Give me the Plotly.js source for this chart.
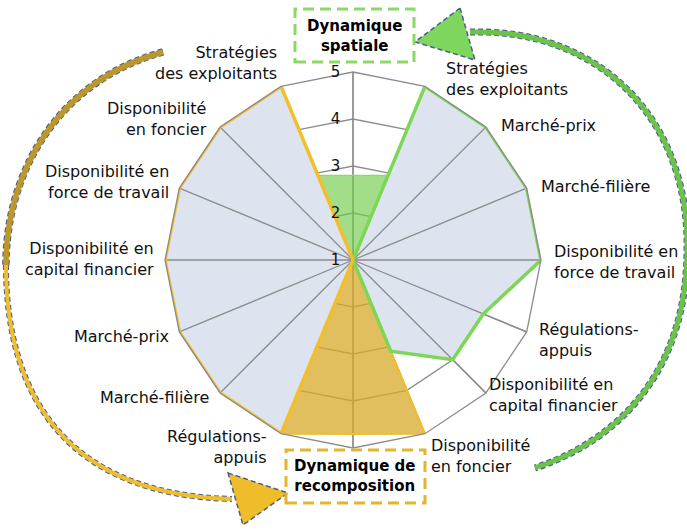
<!DOCTYPE html>
<html>
<head>
<meta charset="utf-8">
<script src="https://cdn.plot.ly/plotly-3.0.1.min.js"></script>
<style>html,body{margin:0;padding:0;background:#fff;}#chart{width:687px;height:530px;}</style>
</head>
<body>
<div id="chart"></div>
<script>
// Spoke labels, clockwise from the top spoke
const spokeLabels = [
  "",
  "Stratégies<br>des exploitants",
  "Marché-prix",
  "Marché-filière",
  "Disponibilité en<br>force de travail",
  "Régulations-<br>appuis",
  "Disponibilité en<br>capital financier",
  "Disponibilité<br>en foncier",
  "",
  "Régulations-<br>appuis",
  "Marché-filière",
  "Marché-prix",
  "Disponibilité en<br>capital financier",
  "Disponibilité en<br>force de travail",
  "Disponibilité<br>en foncier",
  "Stratégies<br>des exploitants"
];
// Series values (scale 1..5)
const recompositionArea = [1,1,1,1,1,1,1,1,1,5,5,5,5,5,5,5];
const spatialeArea      = [1,5,5,5,5,4,4,3.1,1,1,1,1,1,1,1,1];
const spatialeCore      = [2.8,2.95,1,1,1,1,1,1,1,1,1,1,1,1,1,2.95];
const recompositionCore = [1,1,1,1,1,1,1,5,4.7,5,1,1,1,1,1,1];
const radialTicks = [1,2,3,4,5];

// Label placement (pixels in the 687x530 page): anchor x, middle y, side
const labelPlacement = [
  null,
  [445, 79, 'left'], [500, 126, 'left'], [540, 187, 'left'], [553, 262, 'left'],
  [538, 340, 'left'], [488, 395, 'left'], [430, 456, 'left'],
  null,
  [268, 447, 'right'], [210, 398, 'right'], [170, 336, 'right'], [155, 259, 'right'],
  [170, 182, 'right'], [208, 119, 'right'], [278, 63, 'right']
];

const keys = spokeLabels.map((l,i)=>'k'+i);
const close = a => a.concat([a[0]]);
const th = close(keys);

const FONT = 'DejaVu Sans, Liberation Sans, Arial, sans-serif';
const GRID = '#8c8c8c';
const LAV = '#dde3ef';
const YEL = '#f2bf2a';
const GRN = '#7dd655';

// spokes overlay (drawn above the opaque fills, like the reference)
const spR = [], spT = [];
keys.forEach(k=>{ spR.push(radialTicks[0], radialTicks[radialTicks.length-1], null); spT.push(k,k,k); });

const traces = [
  {type:'scatterpolar', r:close(recompositionArea), theta:th, mode:'lines', fill:'toself',
   fillcolor:LAV, line:{color:'#222', width:1}, hoverinfo:'skip', showlegend:false},
  {type:'scatterpolar', r:close(spatialeArea), theta:th, mode:'lines', fill:'toself',
   fillcolor:LAV, line:{color:'#222', width:1}, hoverinfo:'skip', showlegend:false},
  {type:'scatterpolar', r:spR, theta:spT, mode:'lines', connectgaps:false,
   line:{color:GRID, width:1.3}, hoverinfo:'skip', showlegend:false},
  {type:'scatterpolar', r:close(spatialeCore), theta:th, mode:'lines', fill:'toself',
   fillcolor:'rgba(110,205,70,0.65)', line:{color:'#8fd86b', width:1.2}, hoverinfo:'skip', showlegend:false},
  {type:'scatterpolar', r:close(recompositionCore), theta:th, mode:'lines', fill:'toself',
   fillcolor:'rgba(215,170,40,0.75)', line:{color:YEL, width:2}, hoverinfo:'skip', showlegend:false},
  {type:'scatterpolar', r:close(spatialeArea), theta:th, mode:'lines',
   line:{color:GRN, width:3.5}, hoverinfo:'skip', showlegend:false},
  {type:'scatterpolar', r:close(recompositionArea), theta:th, mode:'lines',
   line:{color:YEL, width:3.5}, hoverinfo:'skip', showlegend:false}
];

const W = 687, H = 530;
const X = x => (x/W).toFixed(4);
const Y = y => (1 - y/H).toFixed(4);
const pt = (x,y) => X(x)+','+Y(y);
const NAVY = '#4a5d8c';

const leftA = 'M'+pt(163,52)+' C'+pt(60,80)+' '+pt(6,170)+' '+pt(6,265);
const leftB = 'M'+pt(6,265)+' C'+pt(6,400)+' '+pt(70,495)+' '+pt(232,499);
const right = 'M'+pt(470,32)+' C'+pt(600,28)+' '+pt(690,120)+' '+pt(687,250)+' C'+pt(687,370)+' '+pt(620,440)+' '+pt(535,468);
const headG = 'M'+pt(460,8)+' L'+pt(415,42)+' L'+pt(475,60)+' Z';
const headY = 'M'+pt(228,473)+' L'+pt(288,493)+' L'+pt(243,525)+' Z';

const shp = (path, color, width, dash, fill) => ({type:'path', xref:'paper', yref:'paper', path:path,
  line:{color:color, width:width, dash:dash||'solid'}, fillcolor:fill||'rgba(0,0,0,0)'});

const shapes = [
  shp(leftA, NAVY, 7.5, '5px,3px'),
  shp(leftA, '#bc982c', 5.5),
  shp(leftB, NAVY, 6, '5px,3px'),
  shp(leftB, '#efbe2e', 4),
  shp(right, NAVY, 7, '5px,3px'),
  shp(right, '#6cc24a', 5),
  shp(headG, NAVY, 1.5, '5px,3px', '#7fd65c'),
  shp(headY, NAVY, 1.5, '5px,3px', '#efbc2c'),
  {type:'rect', xref:'paper', yref:'paper', x0:X(295), x1:X(414), y0:Y(62), y1:Y(9),
   line:{color:'#8bd964', width:3, dash:'11px,6px'}},
  {type:'rect', xref:'paper', yref:'paper', x0:X(286), x1:X(425), y0:Y(503), y1:Y(450),
   line:{color:'#e2b52e', width:3, dash:'11px,6px'}}
];

const annotations = [
  {xref:'paper', yref:'paper', x:X(354), y:Y(36), text:'<b>Dynamique<br>spatiale</b>', showarrow:false,
   font:{family:FONT, size:15, color:'#000'}, xanchor:'center', yanchor:'middle'},
  {xref:'paper', yref:'paper', x:X(355), y:Y(476), text:'<b>Dynamique de<br>recomposition</b>', showarrow:false,
   font:{family:FONT, size:15, color:'#000'}, xanchor:'center', yanchor:'middle'}
];
spokeLabels.forEach((txt, i) => {
  const p = labelPlacement[i];
  if (!p || !txt) return;
  annotations.push({xref:'paper', yref:'paper', x:X(p[0]), y:Y(p[1]), text:txt, showarrow:false,
    xanchor:p[2], yanchor:'middle', align:p[2], borderpad:0,
    font:{family:FONT, size:16, color:'#111'}});
});

const layout = {
  width:W, height:H,
  margin:{l:0, r:0, t:0, b:0},
  paper_bgcolor:'#fff',
  showlegend:false,
  font:{family:FONT, size:16, color:'#111'},
  polar:{
    domain:{x:[165/W, 541/W], y:[1-448/H, 1-72/H]},
    bgcolor:'#fff',
    gridshape:'linear',
    angularaxis:{type:'category', categoryarray:keys, direction:'clockwise', rotation:90,
      tickmode:'array', tickvals:keys, ticktext:spokeLabels, showticklabels:false,
      showline:true, linecolor:GRID, linewidth:1.3, gridcolor:GRID, gridwidth:1.3, ticks:''},
    radialaxis:{range:[1,5], tickmode:'array', tickvals:radialTicks, angle:90, tickangle:90,
      side:'counterclockwise', showline:false, ticks:'outside', ticklen:7, tickcolor:'rgba(0,0,0,0)',
      gridcolor:GRID, gridwidth:1.3,
      tickfont:{family:FONT, size:15, color:'#111'}}
  },
  shapes:shapes,
  annotations:annotations
};

Plotly.newPlot('chart', traces, layout, {staticPlot:true, displayModeBar:false});
</script>
</body>
</html>
